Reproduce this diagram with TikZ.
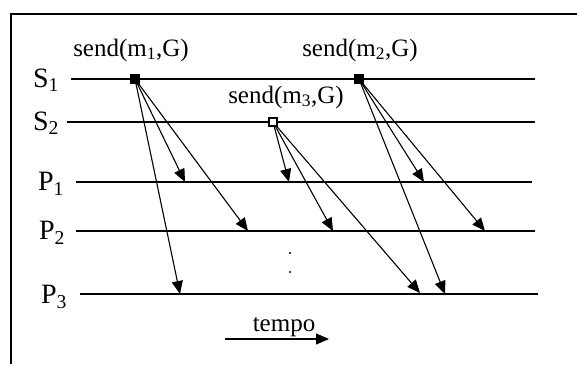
\documentclass[tikz,border=0pt]{standalone}
\usepackage{fontspec}
\setmainfont{Liberation Serif}
\usetikzlibrary{arrows.meta}
\begin{document}
\begin{tikzpicture}[x=1pt,y=-1pt,
  tl/.style={line width=1.3pt},
  msg/.style={line width=1.1pt,-{Triangle[length=13pt,width=11pt]}},
  lbl/.style={font=\fontsize{28}{28}\selectfont,inner sep=0pt},
  sendlbl/.style={font=\fontsize{25}{25}\selectfont,inner sep=0pt},
  sq/.style={draw,line width=1.3pt,minimum size=8pt,inner sep=0pt}]
\useasboundingbox (0,0) rectangle (577,364);
% frame (top and left)
\draw[line width=1.8pt] (11,364) -- (11,14) -- (577,14);
% time lines
\coordinate (s1a) at (71,79);  \coordinate (s1b) at (535,79);
\coordinate (s2a) at (67,122); \coordinate (s2b) at (535,122);
\coordinate (p1a) at (76,182); \coordinate (p1b) at (532,182);
\coordinate (p2a) at (76,231); \coordinate (p2b) at (535,231);
\coordinate (p3a) at (80,294); \coordinate (p3b) at (538,294);
\draw[tl] (s1a) -- (s1b);
\draw[tl] (s2a) -- (s2b);
\draw[tl] (p1a) -- (p1b);
\draw[tl] (p2a) -- (p2b);
\draw[tl] (p3a) -- (p3b);
% process labels
\node[lbl] (S1) at (46,80) {S\textsubscript{1}};
\node[lbl] (S2) at (46,123) {S\textsubscript{2}};
\node[lbl] (P1) at (51,184) {P\textsubscript{1}};
\node[lbl] (P2) at (52,233) {P\textsubscript{2}};
\node[lbl] (P3) at (54,297) {P\textsubscript{3}};
% send labels
\node[sendlbl] (l1) at (131,50) {send(m\textsubscript{1},G)};
\node[sendlbl] (l2) at (360,50) {send(m\textsubscript{2},G)};
\node[sendlbl] (l3) at (286,97) {send(m\textsubscript{3},G)};
% receive points
\coordinate (r11) at (185,182); \coordinate (r12) at (248,231); \coordinate (r13) at (180,294);
\coordinate (r31) at (289,182); \coordinate (r32) at (333,231); \coordinate (r33) at (420,293);
\coordinate (r21) at (424,182); \coordinate (r22) at (485,231); \coordinate (r23) at (445,294);
% send events
\node[sq,fill=black] (m1) at (135,79) {};
\node[sq,fill=white] (m3) at (273,122) {};
\node[sq,fill=black] (m2) at (359,79) {};
\draw[msg] (m1.center) -- (r11);
\draw[msg] (m1.center) -- (r12);
\draw[msg] (m1.center) -- (r13);
\draw[msg] (m3.center) -- (r31);
\draw[msg] (m3.center) -- (r32);
\draw[msg] (m3.center) -- (r33);
\draw[msg] (m2.center) -- (r21);
\draw[msg] (m2.center) -- (r22);
\draw[msg] (m2.center) -- (r23);
\node[sq,fill=white] at (273,122) {};
% dots
\fill (290,253) circle (1.2pt);
\fill (290,272) circle (1.2pt);
% tempo
\node[font=\fontsize{25}{25}\selectfont,inner sep=0pt,anchor=base] (tempo) at (284,331) {tempo};
\coordinate (ta) at (225,339); \coordinate (tb) at (329,339);
\draw[line width=1.1pt,-{Triangle[length=13pt,width=11pt]}] (ta) -- (tb);
\end{tikzpicture}
\end{document}
